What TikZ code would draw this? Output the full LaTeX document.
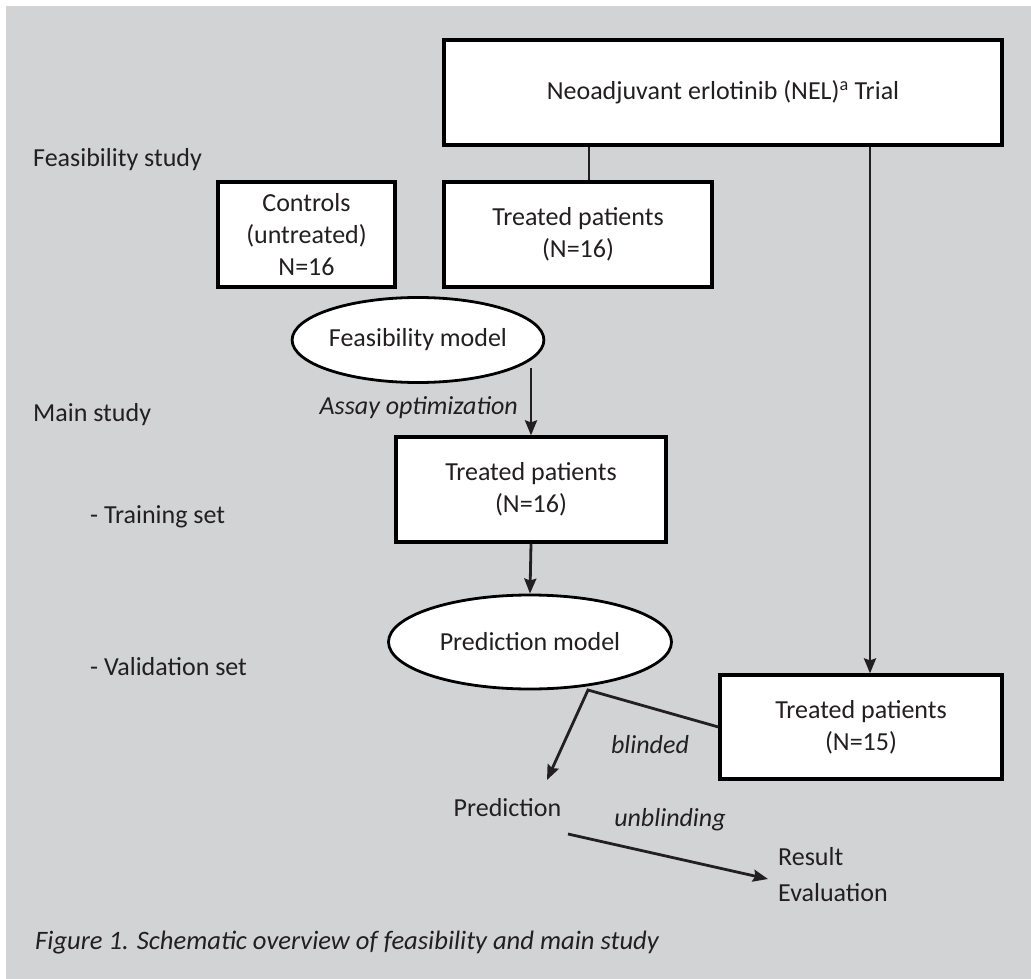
\documentclass[tikz,border=0pt]{standalone}
\usepackage{fontspec}
\setmainfont{Carlito}
\usetikzlibrary{shapes.geometric,arrows.meta}
\definecolor{bg}{HTML}{D1D3D4}
\definecolor{ink}{HTML}{231F20}
\begin{document}
\begin{tikzpicture}[x=1pt,y=-1pt,
  txt/.style={font=\fontsize{26}{32}\selectfont, text=ink, inner sep=0pt},
  box/.style={draw=black, line width=3.2pt, fill=white, align=center, txt},
  oval/.style={ellipse, draw=black, line width=2.8pt, fill=white, txt},
  conn/.style={draw=ink, line width=2.8pt},
  arr/.style={conn, -{Stealth[length=15pt,width=12pt,inset=2pt]}},
  lab/.style={txt, anchor=west},
  itl/.style={txt, font=\fontsize{26}{32}\selectfont\itshape},
]
\useasboundingbox (0,0) rectangle (1031,979);
\fill[white] (0,0) rectangle (1031,979);
\fill[bg] (6,6) rectangle (1031,979);

% nodes
\node[box, minimum width=558, minimum height=105] (nel) at (723,92.5) {Neoadjuvant erlotinib (NEL)\textsuperscript{a} Trial};
\node[box, minimum width=177, minimum height=105] (ctrl) at (306.5,234.5) {Controls\\(untreated)\\N=16};
\node[box, minimum width=268, minimum height=105] (tp1) at (578,234.5) {Treated patients\\(N=16)};
\node[oval, minimum width=251, minimum height=85] (fm) at (418,340) {Feasibility model};
\node[box, minimum width=270, minimum height=105] (tp2) at (531,489.5) {Treated patients\\(N=16)};
\node[oval, minimum width=283, minimum height=94] (pm) at (530,642) {Prediction model};
\node[box, minimum width=282, minimum height=104] (tp3) at (861,727) {Treated patients\\(N=15)};
\node[txt] (pred) at (507.5,808) {Prediction};
\node[txt, anchor=west, align=left, font=\fontsize{26}{36}\selectfont] (res) at (778,875) {Result\\Evaluation};

% labels
\node[lab] (lfs) at (33,160) {Feasibility study};
\node[lab] (lms) at (33,415) {Main study};
\node[lab] (lts) at (90,517) {- Training set};
\node[lab] (lvs) at (90,667) {- Validation set};
\node[itl, anchor=east] (lao) at (518,408) {Assay optimization};
\node[itl] (lbl) at (650,745) {blinded};
\node[itl] (lub) at (670,820) {unblinding};
\node[txt, anchor=west, font=\fontsize{26.6}{30}\selectfont\itshape] (cap) at (35,943) {Figure 1. Schematic overview of feasibility and main study};

% helper coordinates
\coordinate (l1) at (589,0);
\coordinate (l2) at (870,0);
\coordinate (a1) at (531,368);
\coordinate (v) at (588,690);
\coordinate (ptip) at (547,780);
\coordinate (u1) at (568,834);
\coordinate (u2) at (768,879);

% connectors
\draw[conn] (nel.south -| l1) -- (tp1.north -| l1);
\draw[arr] (nel.south -| l2) -- (tp3.north -| l2);
\draw[arr] (a1) -- (a1 |- tp2.north);
\draw[arr] (tp2.south) -- (pm.north);
\draw[arr] (tp3.west) -- (v) -- (ptip);
\draw[arr] (u1) -- (u2);
\end{tikzpicture}
\end{document}
